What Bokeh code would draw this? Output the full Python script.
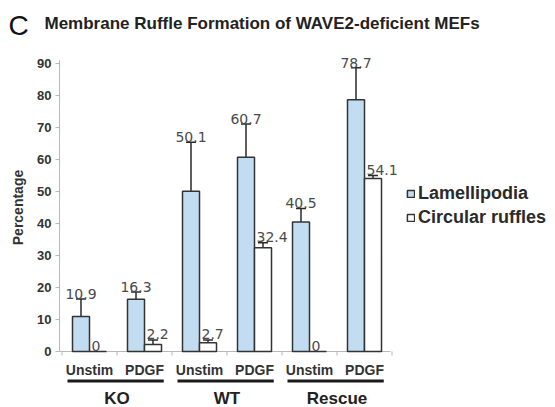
import numpy as np
from bokeh.plotting import figure
from bokeh.models import (Range1d, Whisker, ColumnDataSource, Legend, LegendItem, TeeHead)
from bokeh.core.properties import value
from bokeh.embed import file_html
from bokeh.resources import INLINE

# ---------------- data ----------------
groups = ["KO", "WT", "Rescue"]
conditions = ["Unstim", "PDGF"]
lamellipodia = [10.9, 16.3, 50.1, 60.7, 40.5, 78.7]
lamellipodia_err = [5.5, 2.3, 15.3, 10.4, 4.2, 10.0]
circular = [0.0, 2.2, 2.7, 32.4, 0.0, 54.1]
circular_err = [0.0, 1.4, 0.9, 1.6, 0.0, 0.9]
series_names = ["Lamellipodia", "Circular ruffles"]
y_ticks = list(range(0, 91, 10))
title_letter = "C"
title_text = "Membrane Ruffle Formation of WAVE2-deficient MEFs"
y_label = "Percentage"

# ---------------- page geometry (pixels) ----------------
W, H = 555, 407
PX_PER_CAT = 55.0      # pixels per category slot
X0_PX = 61.5           # x pixel of category origin
PX_PER_UNIT_Y = 3.2    # pixels per percentage point
Y0_PX = 351.0          # y pixel of value 0
AXIS_PX = 59.0         # x pixel of the value axis

def ix(px):
    return (px - X0_PX) / PX_PER_CAT

def iy(py):
    return (Y0_PX - py) / PX_PER_UNIT_Y

n_cats = len(groups) * len(conditions)
cat_labels = [c for g in groups for c in conditions]
centers = np.arange(n_cats) + 0.5
bw = 17.0 / PX_PER_CAT
lam_x = centers - bw / 2
cir_x = centers + bw / 2

FONT = "Liberation Sans"
DARK = "#2a2a2a"
AXIS_GRAY = "#b8b8b8"

p = figure(width=W, height=H, output_backend="svg", toolbar_location=None,
           x_range=Range1d(ix(0), ix(W)), y_range=Range1d(iy(H), iy(0)),
           x_axis_location=None, y_axis_location=None, title=None,
           min_border_left=0, min_border_right=0, min_border_top=0, min_border_bottom=0)
p.grid.visible = False
p.outline_line_color = None
p.background_fill_color = "white"
p.border_fill_color = "white"

# ---- value axis (line, ticks, labels, title) ----
ax_x = ix(AXIS_PX)
p.segment(x0=[ax_x], y0=[0], x1=[ax_x], y1=[max(y_ticks) + 1],
          line_color=AXIS_GRAY, line_width=1)
yt = np.array(y_ticks, dtype=float)
p.segment(x0=np.full(len(yt), ix(AXIS_PX - 4)), y0=yt, x1=np.full(len(yt), ax_x), y1=yt,
          line_color=AXIS_GRAY, line_width=1)
p.text(x=np.full(len(yt), ix(AXIS_PX - 8)), y=yt, text=[str(t) for t in y_ticks],
       text_align="right", text_baseline="middle",
       text_font=value(FONT), text_font_style="bold", text_font_size="13px",
       text_color="#333333")
p.text(x=[ix(17)], y=[iy(207)], text=[y_label], angle=np.pi / 2,
       text_align="center", text_baseline="middle",
       text_font=value(FONT), text_font_style="bold", text_font_size="14px",
       text_color="#333333")

# ---- category baseline and ticks ----
p.segment(x0=[ax_x], y0=[0], x1=[n_cats - 0.03], y1=[0],
          line_color=AXIS_GRAY, line_width=1)
tick_x = np.arange(n_cats + 1)
p.segment(x0=tick_x, y0=np.zeros(n_cats + 1), x1=tick_x,
          y1=np.full(n_cats + 1, -4 / PX_PER_UNIT_Y), line_color=AXIS_GRAY, line_width=1)

# ---- bars ----
r_lam = p.vbar(x=lam_x, top=lamellipodia, bottom=0, width=bw,
               fill_color="#c2dcf2", line_color="#333333", line_width=1.5)
r_cir = p.vbar(x=cir_x, top=circular, bottom=0, width=bw,
               fill_color="white", line_color="#333333", line_width=1.5)

# ---- error bars ----
def add_whiskers(xs, vals, errs):
    m = np.array(errs) > 0
    xs = np.array(xs)[m]
    v = np.array(vals)[m]
    e = np.array(errs)[m]
    src = ColumnDataSource(dict(x=xs, upper=v + e, lower=v - e))
    w = Whisker(source=src, base="x", upper="upper", lower="lower",
                line_color=DARK, line_width=1.5,
                upper_head=TeeHead(size=10, line_color=DARK, line_width=1.5),
                lower_head=TeeHead(size=10, line_color=DARK, line_width=1.5))
    p.add_layout(w)

add_whiskers(lam_x, lamellipodia, lamellipodia_err)
add_whiskers(cir_x, circular, circular_err)

# ---- value labels ----
lam_top = np.array(lamellipodia) + np.array(lamellipodia_err)
cir_top = np.array(circular) + np.array(circular_err)
p.text(x=lam_x, y=lam_top, text=[f"{v:g}" for v in lamellipodia],
       text_align="center", text_baseline="alphabetic", y_offset=-5,
       text_font=value("DejaVu Sans"), text_font_size="14px", text_color="#4a4a4a")
p.text(x=cir_x - bw / 2 + 2 / PX_PER_CAT, y=cir_top, text=[f"{v:g}" for v in circular],
       text_align="left", text_baseline="alphabetic", y_offset=-6,
       text_font=value("DejaVu Sans"), text_font_size="14px", text_color="#4a4a4a")

# ---- category labels ----
p.text(x=centers, y=np.full(n_cats, iy(369)), text=cat_labels,
       text_align="center", text_baseline="middle",
       text_font=value(FONT), text_font_style="bold", text_font_size="14px",
       text_color="#333333")

# ---- group underlines and labels ----
g_mid = np.arange(len(groups)) * len(conditions) + len(conditions) / 2
p.segment(x0=g_mid - 0.9, y0=np.full(len(groups), iy(380.5)),
          x1=g_mid + 0.85, y1=np.full(len(groups), iy(380.5)),
          line_color="#1a1a1a", line_width=3)
p.text(x=g_mid, y=np.full(len(groups), iy(398)), text=groups,
       text_align="center", text_baseline="alphabetic",
       text_font=value(FONT), text_font_style="bold", text_font_size="17px",
       text_color="#222222")

# ---- legend ----
legend = Legend(items=[LegendItem(label=series_names[0], renderers=[r_lam]),
                       LegendItem(label=series_names[1], renderers=[r_cir])],
                location=(406, 179), orientation="vertical",
                glyph_width=9, glyph_height=9, label_standoff=3, spacing=3,
                padding=0, margin=0, border_line_color=None, background_fill_alpha=0,
                label_text_font=FONT, label_text_font_style="bold",
                label_text_font_size="18px", label_text_color="#2a2a2a")
p.add_layout(legend)

# ---- title ----
p.text(x=[ix(8)], y=[iy(25)], text=[title_letter], text_align="left",
       text_baseline="middle", text_font=value(FONT), text_font_size="28px",
       text_color="#111111")
p.text(x=[ix(44)], y=[iy(23)], text=[title_text], text_align="left",
       text_baseline="middle", text_font=value(FONT), text_font_style="bold",
       text_font_size="17px", text_color="#222222")

open("out.html", "w").write(file_html(p, INLINE))
